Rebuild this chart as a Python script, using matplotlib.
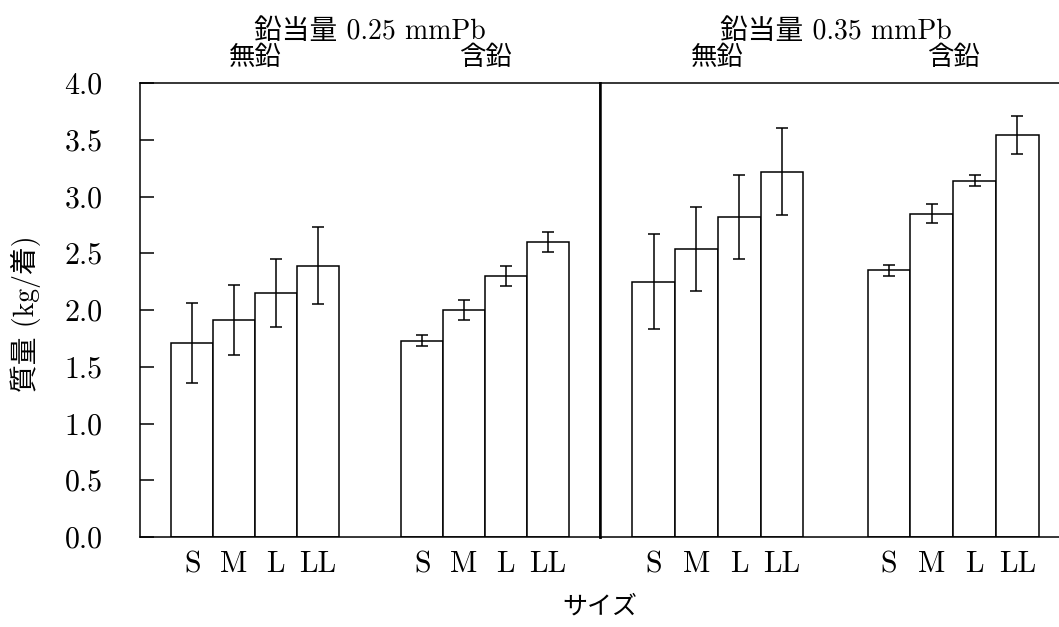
import matplotlib
matplotlib.use("Agg")
import matplotlib.pyplot as plt
import matplotlib.transforms as mtransforms
import numpy as np

# ---- data ----
sizes = ["S", "M", "L", "LL"]
panel_titles = ["鉛当量 0.25 mmPb", "鉛当量 0.35 mmPb"]
group_names = ["無鉛", "含鉛"]

mean_025_free = [1.71, 1.91, 2.15, 2.39]
err_025_free = [0.35, 0.31, 0.30, 0.34]
mean_025_lead = [1.73, 2.00, 2.30, 2.60]
err_025_lead = [0.05, 0.09, 0.09, 0.09]

mean_035_free = [2.25, 2.54, 2.82, 3.22]
err_035_free = [0.42, 0.37, 0.37, 0.38]
mean_035_lead = [2.35, 2.85, 3.14, 3.54]
err_035_lead = [0.05, 0.085, 0.05, 0.165]

ytick_vals = [0.0, 0.5, 1.0, 1.5, 2.0, 2.5, 3.0, 3.5, 4.0]
ytick_labels = ["0.0", "0.5", "1.0", "1.5", "2.0", "2.5", "3.0", "3.5", "4.0"]

ylabel = "質量 (kg/着)"
xlabel = "サイズ"

FAM = ["cmr10", "Noto Sans CJK JP", "DejaVu Serif"]
plt.rcParams["font.family"] = FAM

W, H = 1059, 627
fig = plt.figure(figsize=(W / 100, H / 100), dpi=100)
fig.patch.set_facecolor("white")

top_px, bot_px = 83, 537
ax_h = (bot_px - top_px) / H
ax_y = 1 - bot_px / H

ax1 = fig.add_axes([140 / W, ax_y, 460 / W, ax_h])
ax2 = fig.add_axes([600 / W, ax_y, 471 / W, ax_h])

pos_a = np.arange(4)
pos_b = np.arange(4) + 5.5

panels = [
    (ax1, mean_025_free, err_025_free, mean_025_lead, err_025_lead, panel_titles[0]),
    (ax2, mean_035_free, err_035_free, mean_035_lead, err_035_lead, panel_titles[1]),
]

for ax, m1, e1, m2, e2, title in panels:
    for pos, m, e in [(pos_a, m1, e1), (pos_b, m2, e2)]:
        ax.bar(pos, m, width=1.0, color="white", edgecolor="black", linewidth=1.1, zorder=2)
        ax.errorbar(pos, m, yerr=e, fmt="none", ecolor="black", elinewidth=1.1,
                    capsize=4, capthick=1.1, zorder=3)
    ax.set_xlim(-1.25, 9.75)
    ax.set_ylim(0, 4.0)
    ax.set_xticks(list(pos_a) + list(pos_b))
    ax.set_xticklabels(sizes + sizes, fontsize=21.5, family=FAM)
    ax.tick_params(axis="x", length=0, pad=10)
    for s in ax.spines.values():
        s.set_linewidth(1.1)
    trans = mtransforms.blended_transform_factory(ax.transData, ax.transAxes)
    ax.text(pos_a.mean(), 1.056, group_names[0], transform=trans, ha="center",
            va="center", fontsize=19, family=FAM)
    ax.text(pos_b.mean(), 1.056, group_names[1], transform=trans, ha="center",
            va="center", fontsize=19, family=FAM)
    ax.text(0.5, 1.112, title, transform=ax.transAxes, ha="center", va="center",
            fontsize=20, family=FAM)

ax1.set_yticks(ytick_vals)
ax1.set_yticklabels(ytick_labels, fontsize=21.5, family=FAM)
ax1.tick_params(axis="y", direction="in", length=10, width=1.1, pad=27)
ax1.spines["right"].set_linewidth(1.8)

ax2.set_yticks([])
ax2.spines["left"].set_linewidth(1.8)

fig.text(26 / W, 1 - 314 / H, ylabel, rotation=90, ha="center", va="center",
         fontsize=20, family=FAM)
fig.text(600 / W, 1 - 607 / H, xlabel, ha="center", va="center",
         fontsize=18, family=FAM)

fig.savefig("out.png", dpi=100, facecolor="white")
